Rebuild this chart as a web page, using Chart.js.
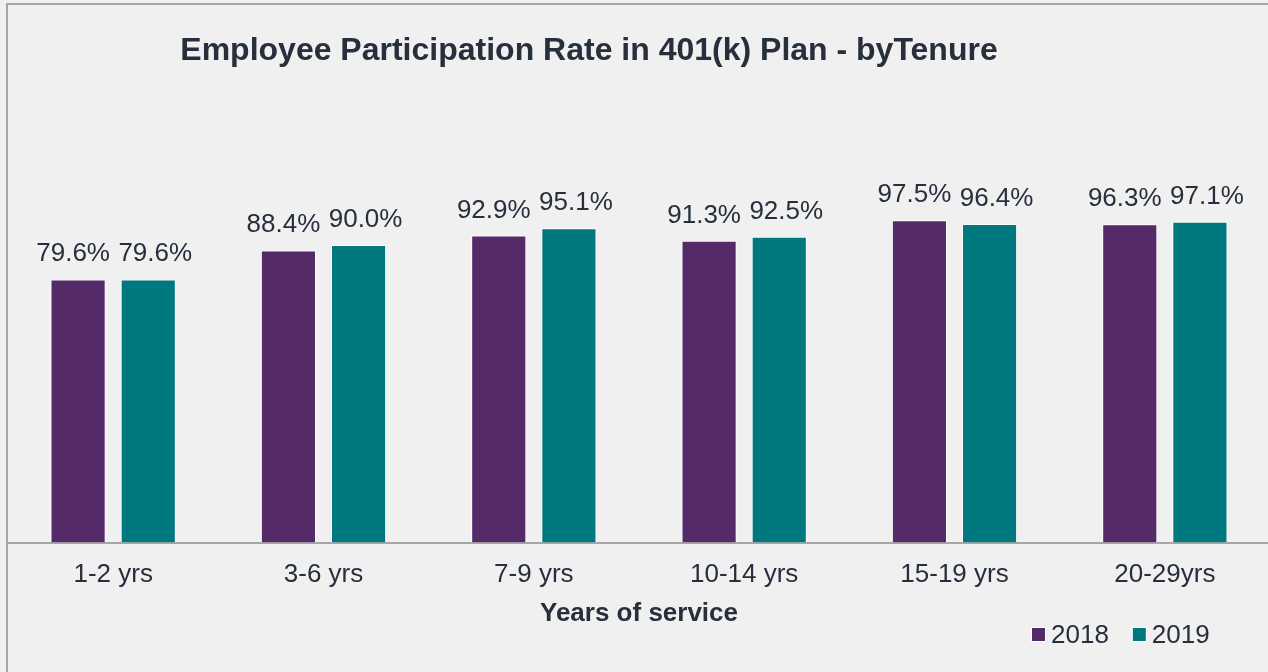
<!DOCTYPE html>
<html>
<head>
<meta charset="utf-8">
<script src="https://cdn.jsdelivr.net/npm/chart.js@4"></script>
<style>
  html, body { margin: 0; padding: 0; background: #f0f0f0; overflow: hidden; }
  #frame {
    position: absolute; left: 6px; top: 3px;
    width: 1262px; height: 669px;
    border-left: 2px solid #a6a6a6; border-top: 2px solid #a6a6a6;
  }
</style>
</head>
<body>
<div id="frame"><canvas id="chart"></canvas></div>
<script>
// chart data
const categories = ['1-2 yrs', '3-6 yrs', '7-9 yrs', '10-14 yrs', '15-19 yrs', '20-29yrs'];
const series2018 = [79.6, 88.4, 92.9, 91.3, 97.5, 96.3];
const series2019 = [79.6, 90.0, 95.1, 92.5, 96.4, 97.1];
const seriesNames = ['2018', '2019'];
const chartTitle = 'Employee Participation Rate in 401(k) Plan - byTenure';
const axisTitle = 'Years of service';

const FONT = '"Liberation Sans", Arial, sans-serif';
const TEXT = '#262f3b';
const PURPLE = '#542a69';
const TEAL = '#007880';

// value labels above each bar (nudged apart a little, as in the original)
const labelShift = [-5, 7];
const valueLabels = {
    id: 'valueLabels',
    afterDatasetsDraw(chart) {
        const ctx = chart.ctx;
        ctx.save();
        ctx.font = '26px ' + FONT;
        ctx.fillStyle = TEXT;
        ctx.textAlign = 'center';
        ctx.textBaseline = 'alphabetic';
        chart.data.datasets.forEach((ds, di) => {
            chart.getDatasetMeta(di).data.forEach((bar, i) => {
                ctx.fillText(ds.data[i].toFixed(1) + '%', bar.x + labelShift[di], bar.y - 18);
            });
        });
        ctx.restore();
    }
};

// title placed off-centre like the original, and a small legend bottom right
const titleAndLegend = {
    id: 'titleAndLegend',
    afterDraw(chart) {
        const ctx = chart.ctx;
        ctx.save();
        ctx.fillStyle = TEXT;
        ctx.font = 'bold 32px ' + FONT;
        ctx.textAlign = 'center';
        ctx.textBaseline = 'middle';
        ctx.fillText(chartTitle, 581, 46);

        ctx.font = '26px ' + FONT;
        ctx.textAlign = 'left';
        let x = 1024;
        const y = 630;
        chart.data.datasets.forEach(ds => {
            ctx.fillStyle = '#ffffff';
            ctx.fillRect(x - 1, y - 8, 15, 15);
            ctx.fillStyle = ds.backgroundColor;
            ctx.fillRect(x, y - 7, 13, 13);
            ctx.fillStyle = TEXT;
            ctx.fillText(ds.label, x + 19, y + 1);
            x += 19 + ctx.measureText(ds.label).width + 24;
        });
        ctx.restore();
    }
};

new Chart(document.getElementById('chart'), {
    type: 'bar',
    data: {
        labels: categories,
        datasets: [
            { label: seriesNames[0], data: series2018, backgroundColor: PURPLE, borderColor: '#ffffff', borderWidth: 1 },
            { label: seriesNames[1], data: series2019, backgroundColor: TEAL, borderColor: '#ffffff', borderWidth: 1 }
        ]
    },
    options: {
        responsive: true,
        maintainAspectRatio: false,
        animation: false,
        layout: { padding: { top: 174, bottom: 45, left: 0, right: 0 } },
        datasets: { bar: { categoryPercentage: 0.667, barPercentage: 0.786 } },
        plugins: {
            legend: { display: false },
            title: { display: false },
            tooltip: { enabled: false }
        },
        scales: {
            x: {
                grid: { display: false, drawTicks: false },
                border: { display: true, color: '#a6a6a6', width: 2 },
                ticks: { color: TEXT, font: { family: FONT, size: 26 }, padding: 17 },
                title: {
                    display: true, text: axisTitle, color: TEXT,
                    font: { family: FONT, size: 26, weight: 'bold' },
                    padding: { top: -10, bottom: 0 }
                }
            },
            y: { display: false, min: 0, max: 110 }
        }
    },
    plugins: [valueLabels, titleAndLegend]
});
</script>
</body>
</html>
